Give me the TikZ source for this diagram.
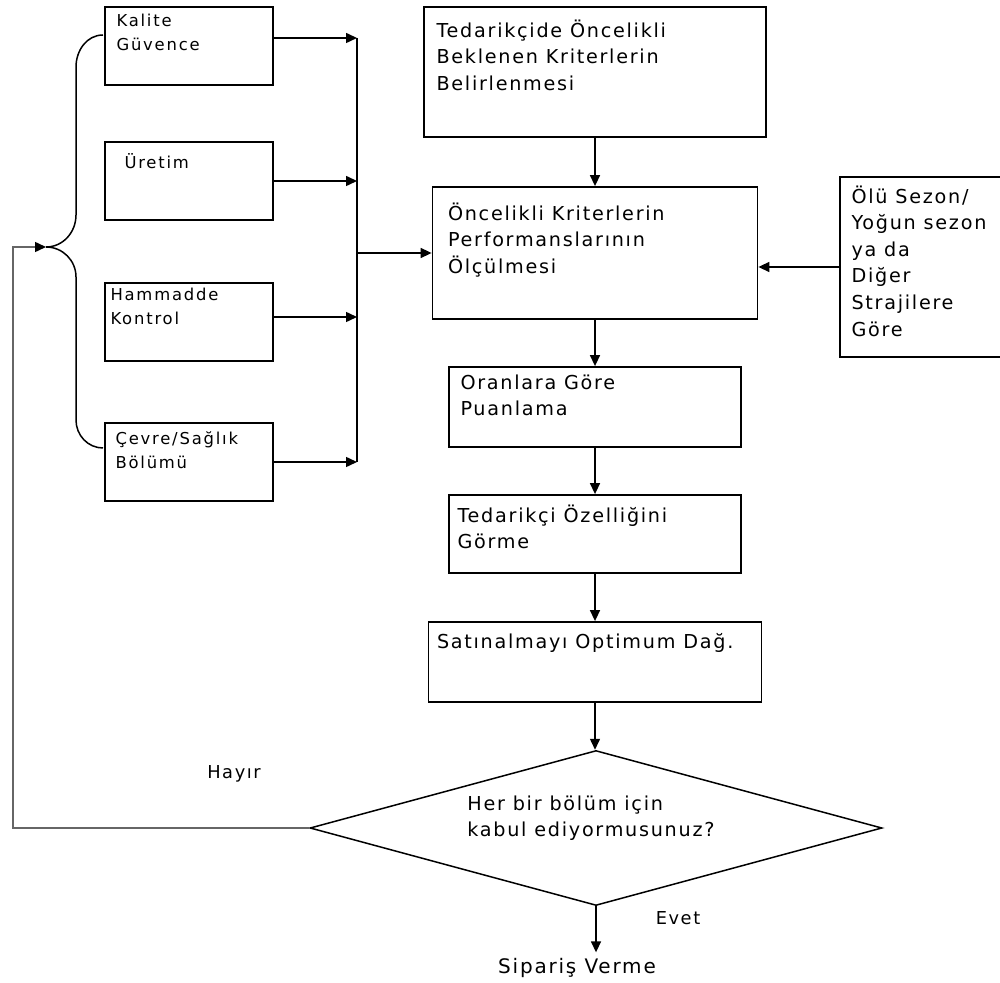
\documentclass[tikz,border=0pt]{standalone}
\usepackage{fontspec}
\setmainfont{DejaVu Sans}
\newfontfamily\kutufont[LetterSpace=9]{DejaVu Sans}
\newfontfamily\solfont[LetterSpace=11]{DejaVu Sans}
\usetikzlibrary{shapes.geometric,arrows.meta,positioning,calc}

\tikzset{
    kutu/.style={draw, rectangle, line width=0.9pt, inner sep=0pt},
    yazi/.style={anchor=north west, align=left, inner sep=0pt,
        font=\kutufont\fontsize{9.6}{13.3}\selectfont, execute at begin node=\strut},
    solyazi/.style={yazi, font=\solfont\fontsize{8.2}{12}\selectfont},
    etiket/.style={anchor=base, inner sep=0pt, font=\kutufont\fontsize{8.9}{11}\selectfont},
    ok/.style={-{Triangle[length=5.5pt,width=5pt,color=black]}, line width=0.75pt},
}

\begin{document}
\begin{tikzpicture}[x=0.5pt, y=-0.5pt]
    \clip (0,0) rectangle (1000,983);
    \coordinate (bus) at (357,253);
    \coordinate (uc) at (46,247);
    \coordinate (sol) at (13,247);

    % birimler (sol sutun)
    \foreach \ad/\yy/\dx/\dy/\oy/\metin in {
        kalite/46/12/8/4/{Kalite\\Güvence},
        uretim/181/20/10/0/{Üretim},
        hammadde/322/6/6/2.5/{Hammadde\\Kontrol},
        cevre/462/11/9/0/{Çevre/Sağlık\\Bölümü}} {
        \node[kutu, minimum width=84pt, minimum height=39pt] (\ad) at (189,\yy) {};
        \node[solyazi] (\ad-y) at ([shift={(\dx,\dy)}]\ad.north west) {\metin};
        \draw[ok] ([yshift=\oy pt]\ad.east) -- ([yshift=\oy pt]\ad.east -| bus);
    }
    \draw[line width=0.75pt] ([yshift=4pt]kalite.east -| bus) -- (cevre.east -| bus);

    % parantez
    \draw[line width=0.75pt] (103,35) to[out=180,in=90] (76,67) -- (76,215)
        to[out=-90,in=0] (uc) to[out=0,in=90] (76,277) -- (76,420)
        to[out=-90,in=180] (103,448);

    % ana akis
    \node[kutu, minimum width=171pt, minimum height=65pt] (tedarik) at (595,72) {};
    \node[kutu, minimum width=162.5pt, minimum height=66pt] (olcum) at (595,253) {};
    \node[kutu, minimum width=82.5pt, minimum height=90pt] (olu) at (922.5,267) {};
    \node[kutu, minimum width=146pt, minimum height=40pt] (puan) at (595,407) {};
    \node[kutu, minimum width=146pt, minimum height=39pt] (ozellik) at (595,534) {};
    \node[kutu, minimum width=166.5pt, minimum height=40pt] (satin) at (595,662) {};
    \node[draw, diamond, minimum width=286pt, minimum height=77.5pt, inner sep=0pt,
        line width=0.75pt] (karar) at (596,828) {};
    \node[inner sep=2.8pt, font=\kutufont\fontsize{10}{12}\selectfont] (siparis) at (577,968) {Sipariş Verme};

    \node[yazi] (tedarik-y) at ([shift={(13,13)}]tedarik.north west) {Tedarikçide Öncelikli\\Beklenen Kriterlerin\\Belirlenmesi};
    \node[yazi] (olcum-y) at ([shift={(16,16)}]olcum.north west) {Öncelikli Kriterlerin\\Performanslarının\\Ölçülmesi};
    \node[yazi] (olu-y) at ([shift={(12,9)}]olu.north west) {Ölü Sezon/\\Yoğun sezon\\ya da\\Diğer\\Strajilere\\Göre};
    \node[yazi] (puan-y) at ([shift={(12,8)}]puan.north west) {Oranlara Göre\\Puanlama};
    \node[yazi] (ozellik-y) at ([shift={(9,10)}]ozellik.north west) {Tedarikçi Özelliğini\\Görme};
    \node[yazi] (satin-y) at ([shift={(9,8)}]satin.north west) {Satınalmayı Optimum Dağ.};
    \node[yazi] (karar-y) at ([shift={(-129,-32.6)}]karar.center) {Her bir bölüm için\\kabul ediyormusunuz?};
    \node[etiket] (hayir) at (234,778.5) {Hayır};
    \node[etiket] (evet) at (678,924.5) {Evet};

    \draw[ok] (bus) -- (olcum.west);
    \draw[ok] (tedarik.south) -- (olcum.north);
    \draw[ok] (olu.west) -- (olu.west -| olcum.east);
    \draw[ok] (olcum.south) -- (puan.north);
    \draw[ok] (puan.south) -- (ozellik.north);
    \draw[ok] (ozellik.south) -- (satin.north);
    \draw[ok] (satin.south) -- (satin.south |- karar.north);
    \draw[ok] (karar.south) -- (karar.south |- siparis.north);
    \draw[ok, draw=black!60] (karar.west) -| (sol) -- (uc);
\end{tikzpicture}
\end{document}
